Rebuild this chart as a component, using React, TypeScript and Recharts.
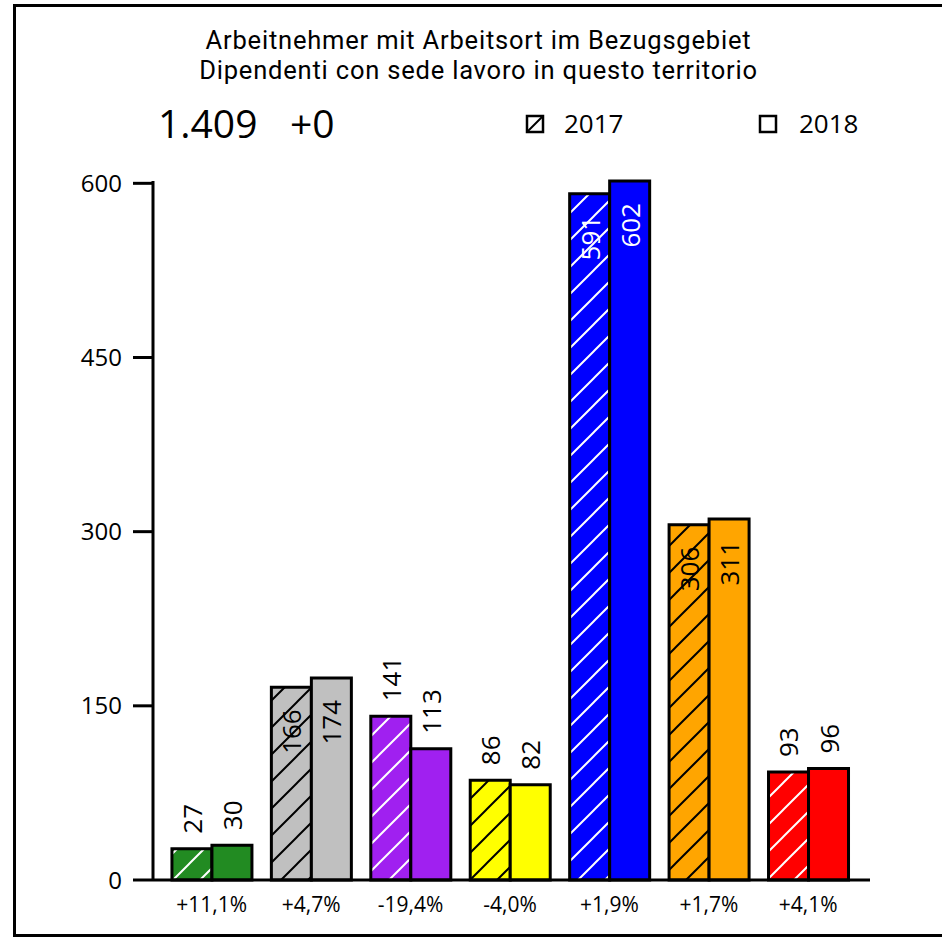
import { BarChart, Bar, XAxis, YAxis, Cell, LabelList } from 'recharts'

// Werte 2017 / 2018 je Sektor, Beschriftung unten = Veränderung
const categories = ['+11,1%', '+4,7%', '-19,4%', '-4,0%', '+1,9%', '+1,7%', '+4,1%']
const values2017 = [27, 166, 141, 86, 591, 306, 93]
const values2018 = [30, 174, 113, 82, 602, 311, 96]
const barColors = ['#228B22', '#C0C0C0', '#A020F0', '#FFFF00', '#0000FF', '#FFA500', '#FF0000']
const hatchColors = ['#fff', '#000', '#fff', '#000', '#fff', '#000', '#fff']
const insideTextColors = ['#000', '#000', '#fff', '#000', '#fff', '#000', '#fff']
const yTicks = [0, 150, 300, 450, 600]
const titleLines = ['Arbeitnehmer mit Arbeitsort im Bezugsgebiet', 'Dipendenti con sede lavoro in questo territorio']

const FONT = '"Open Sans", sans-serif'

const data = categories.map((c, i) => ({ name: c, y2017: values2017[i], y2018: values2018[i] }))

const makeLabel = (props: any) => {
  const { x, y, width, value, index } = props
  const cx = x + width / 2
  const inside = value >= 150
  const ty = inside ? y + 22 : y - 15
  return (
    <text
      x={cx}
      y={ty}
      transform={`rotate(-90 ${cx} ${ty})`}
      textAnchor={inside ? 'end' : 'start'}
      dominantBaseline="central"
      fontSize={26}
      fontFamily={FONT}
      fill={inside ? insideTextColors[index] : '#000'}
    >
      {value}
    </text>
  )
}

export default function App() {
  return (
    <div style={{ position: 'absolute', left: 0, top: 0, width: 942, height: 942, background: '#fff', fontFamily: FONT }}>
      <div
        style={{
          position: 'absolute', left: 13, top: 4, width: 940, height: 933,
          border: '3px solid #000', boxSizing: 'border-box',
        }}
      />
      {titleLines.map((t, i) => (
        <div
          key={i}
          style={{
            position: 'absolute', left: 0, width: 957, top: 25 + i * 30, height: 30,
            textAlign: 'center', fontSize: 25.5, lineHeight: '30px', letterSpacing: 0.8,
            fontFamily: 'Roboto, sans-serif', whiteSpace: 'nowrap',
          }}
        >
          {t}
        </div>
      ))}
      <div style={{ position: 'absolute', left: 158, top: 98, fontSize: 39, lineHeight: '50px' }}>1.409</div>
      <div style={{ position: 'absolute', left: 290, top: 98, fontSize: 39, lineHeight: '50px' }}>+0</div>
      <svg style={{ position: 'absolute', left: 525, top: 114 }} width={22} height={22}>
        <rect x={2} y={2} width={16} height={16} fill="#fff" stroke="#000" strokeWidth={2.5} />
        <path d="M3,17 L17,3" stroke="#000" strokeWidth={2} />
      </svg>
      <div style={{ position: 'absolute', left: 564, top: 106, fontSize: 26, lineHeight: '34px' }}>2017</div>
      <svg style={{ position: 'absolute', left: 758, top: 114 }} width={22} height={22}>
        <rect x={2} y={2} width={16} height={16} fill="#fff" stroke="#000" strokeWidth={2.5} />
      </svg>
      <div style={{ position: 'absolute', left: 799, top: 106, fontSize: 26, lineHeight: '34px' }}>2018</div>

      <div style={{ position: 'absolute', left: 0, top: 0 }}>
        <BarChart
          width={942}
          height={942}
          data={data}
          margin={{ top: 181, right: 72, bottom: 32, left: 0 }}
          barCategoryGap="10%"
          barGap={0}
        >
          <defs>
            {barColors.map((c, i) => (
              <pattern key={i} id={`hatch-${i}`} patternUnits="userSpaceOnUse" width={27} height={27}>
                <rect width={27} height={27} fill={c} />
                <path d="M0,27 L27,0 M-3,3 L3,-3 M24,30 L30,24" stroke={hatchColors[i]} strokeWidth={2} />
              </pattern>
            ))}
          </defs>
          <XAxis
            dataKey="name"
            height={30}
            padding={{ left: 9, right: 12 }}
            axisLine={{ stroke: '#000', strokeWidth: 3 }}
            tickLine={false}
            tickSize={0}
            tickMargin={17}
            tick={{ fill: '#000', fontSize: 21, fontFamily: FONT }}
          />
          <YAxis
            width={153}
            domain={[0, 600]}
            ticks={yTicks}
            interval={0}
            axisLine={{ stroke: '#000', strokeWidth: 3 }}
            tickLine={{ stroke: '#000', strokeWidth: 3 }}
            tickSize={20}
            tickMargin={11}
            tick={{ fill: '#000', fontSize: 24, fontFamily: FONT }}
          />
          <Bar dataKey="y2017" stroke="#000" strokeWidth={3} isAnimationActive={false}>
            {data.map((_, i) => (
              <Cell key={i} fill={`url(#hatch-${i})`} />
            ))}
            <LabelList dataKey="y2017" content={makeLabel} />
          </Bar>
          <Bar dataKey="y2018" stroke="#000" strokeWidth={3} isAnimationActive={false}>
            {data.map((_, i) => (
              <Cell key={i} fill={barColors[i]} />
            ))}
            <LabelList dataKey="y2018" content={makeLabel} />
          </Bar>
        </BarChart>
      </div>
    </div>
  )
}
